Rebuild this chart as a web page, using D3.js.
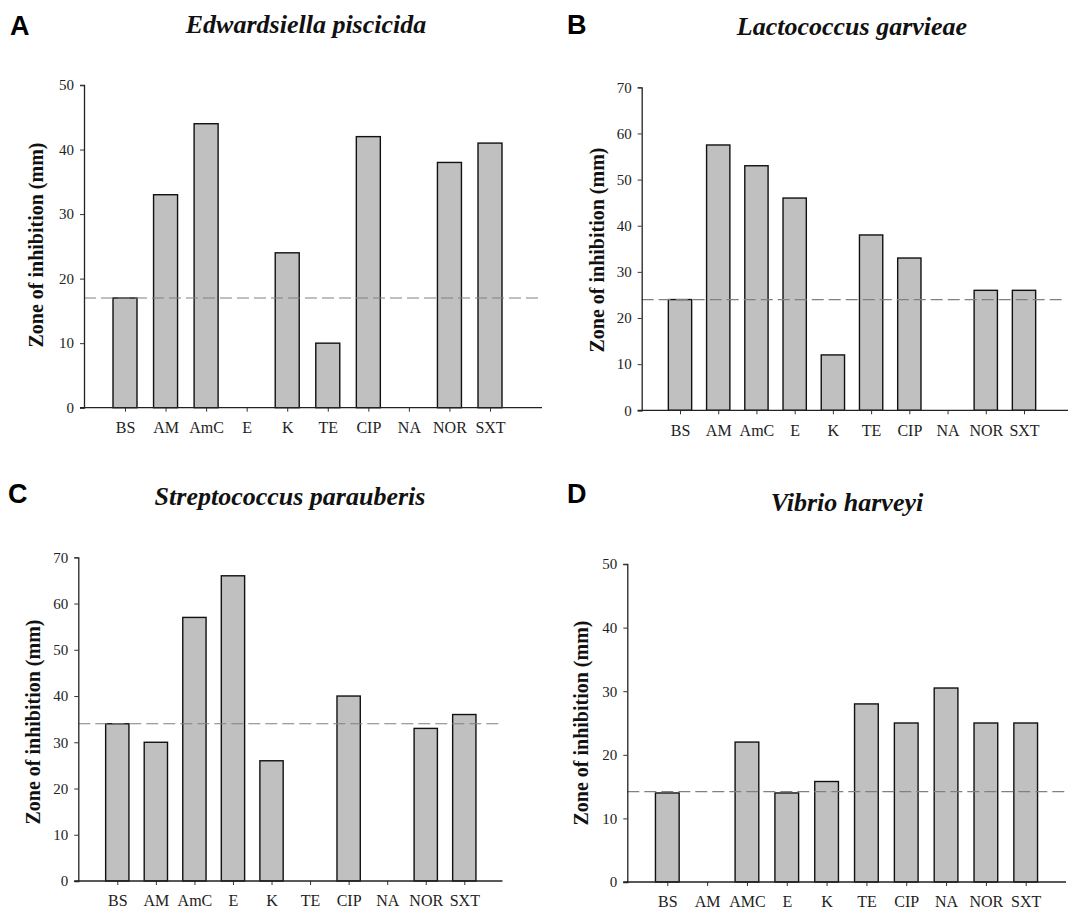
<!DOCTYPE html>
<html>
<head>
<meta charset="utf-8">
<script src="https://cdn.jsdelivr.net/npm/d3@7"></script>
<style>
    body { margin: 0; background: #fff; }
    svg { display: block; }
</style>
</head>
<body>
<script>
// data
const panel_letters = ["A", "B", "C", "D"];
const panel_titles = ["Edwardsiella piscicida", "Lactococcus garvieae", "Streptococcus parauberis", "Vibrio harveyi"];
const categories_abc = ["BS", "AM", "AmC", "E", "K", "TE", "CIP", "NA", "NOR", "SXT"];
const categories_d = ["BS", "AM", "AMC", "E", "K", "TE", "CIP", "NA", "NOR", "SXT"];
const values_a = [17, 33, 44, 0, 24, 10, 42, 0, 38, 41];
const values_b = [24, 57.5, 53, 46, 12, 38, 33, 0, 26, 26];
const values_c = [34, 30, 57, 66, 26, 0, 40, 0, 33, 36];
const values_d = [14, 0, 22, 14, 15.8, 28, 25, 30.5, 25, 25];
const cutoff_values = [17, 24, 34, 14.2];
const y_max_values = [50, 70, 70, 50];
const y_label = "Zone of inhibition (mm)";

// layout of each panel (pixels)
const layout = [
    {left: 84, right: 542, top: 85, bottom: 407.7, first: 125, last: 490, bar: 24, dash_end: 542,
     title: [306, 33], letter: [10, 35], ylab: [36, 245]},
    {left: 641.7, right: 1068, top: 87.3, bottom: 410.3, first: 680, last: 1024, bar: 23.3, dash_end: 1065,
     title: [852, 35], letter: [567, 34], ylab: [597, 250]},
    {left: 78.3, right: 502.5, top: 557.3, bottom: 881, first: 117.3, last: 464.3, bar: 23.3, dash_end: 502.7,
     title: [290, 505], letter: [8, 503], ylab: [33, 722]},
    {left: 627.3, right: 1066, top: 564, bottom: 882, first: 667.3, last: 1025.7, bar: 23.7, dash_end: 1068,
     title: [847, 511], letter: [567, 503], ylab: [581, 723]}
];

const all_values = [values_a, values_b, values_c, values_d];
const all_categories = [categories_abc, categories_abc, categories_abc, categories_d];

const SERIF = "'Liberation Serif', 'Times New Roman', serif";

const svg = d3.select("body")
    .append("svg")
    .attr("width", 1068)
    .attr("height", 912);

const draw_panel = function (i) {
    const L = layout[i];
    const cats = all_categories[i];
    const values = all_values[i];

    const x = d3.scalePoint()
        .domain(cats)
        .range([L.first, L.last]);

    const y = d3.scaleLinear()
        .domain([0, y_max_values[i]])
        .range([L.bottom, L.top]);

    const g = svg.append("g");

    // bars (zero values are not drawn)
    const data = cats.map((c, k) => ({cat: c, value: values[k]})).filter(d => d.value > 0);
    g.selectAll("rect.Bar")
        .data(data)
        .enter()
        .append("rect")
        .attr("class", "Bar")
        .attr("x", d => x(d.cat) - L.bar / 2)
        .attr("y", d => y(d.value))
        .attr("width", L.bar)
        .attr("height", d => y(0) - y(d.value))
        .attr("fill", "#c0c0c0")
        .attr("stroke", "#111")
        .attr("stroke-width", 1.4);

    // cutoff line
    g.append("line")
        .attr("x1", L.left)
        .attr("x2", L.dash_end)
        .attr("y1", y(cutoff_values[i]))
        .attr("y2", y(cutoff_values[i]))
        .attr("stroke", "#808080")
        .attr("stroke-width", 1.2)
        .attr("stroke-dasharray", "12,5");

    // y axis
    const y_axis = g.append("g")
        .attr("transform", `translate(${L.left},0)`)
        .call(d3.axisLeft(y).tickValues(d3.range(0, y_max_values[i] + 1, 10)).tickSize(4).tickPadding(6));
    y_axis.select(".domain").attr("stroke", "#222").attr("stroke-width", 1.3);
    y_axis.selectAll(".tick line").attr("stroke", "#333");
    y_axis.selectAll("text")
        .attr("font-family", SERIF)
        .attr("font-size", 15)
        .attr("fill", "#222");

    // x axis
    const x_axis = g.append("g")
        .attr("transform", `translate(0,${L.bottom})`)
        .call(d3.axisBottom(x).tickSize(4).tickPadding(10));
    x_axis.select(".domain").remove();
    x_axis.selectAll(".tick line").attr("stroke", "#333");
    x_axis.selectAll("text")
        .attr("font-family", SERIF)
        .attr("font-size", 16)
        .attr("fill", "#222");
    g.append("line")
        .attr("x1", L.left - 4)
        .attr("x2", L.right)
        .attr("y1", L.bottom)
        .attr("y2", L.bottom)
        .attr("stroke", "#222")
        .attr("stroke-width", 1.3);

    // y label
    g.append("text")
        .attr("transform", `translate(${L.ylab[0]},${L.ylab[1]}) rotate(-90)`)
        .attr("text-anchor", "middle")
        .attr("dy", "0.35em")
        .attr("font-family", SERIF)
        .attr("font-weight", "bold")
        .attr("font-size", 20)
        .attr("fill", "#111")
        .text(y_label);

    // title
    g.append("text")
        .attr("x", L.title[0])
        .attr("y", L.title[1])
        .attr("text-anchor", "middle")
        .attr("font-family", SERIF)
        .attr("font-weight", "bold")
        .attr("font-style", "italic")
        .attr("font-size", 26)
        .attr("fill", "#111")
        .text(panel_titles[i]);

    // panel letter
    g.append("text")
        .attr("x", L.letter[0])
        .attr("y", L.letter[1])
        .attr("font-family", "'Liberation Sans', Arial, sans-serif")
        .attr("font-weight", "bold")
        .attr("font-size", 27)
        .attr("fill", "#000")
        .text(panel_letters[i]);
};

for (let i = 0; i < 4; i++) {
    draw_panel(i);
}
</script>
</body>
</html>
